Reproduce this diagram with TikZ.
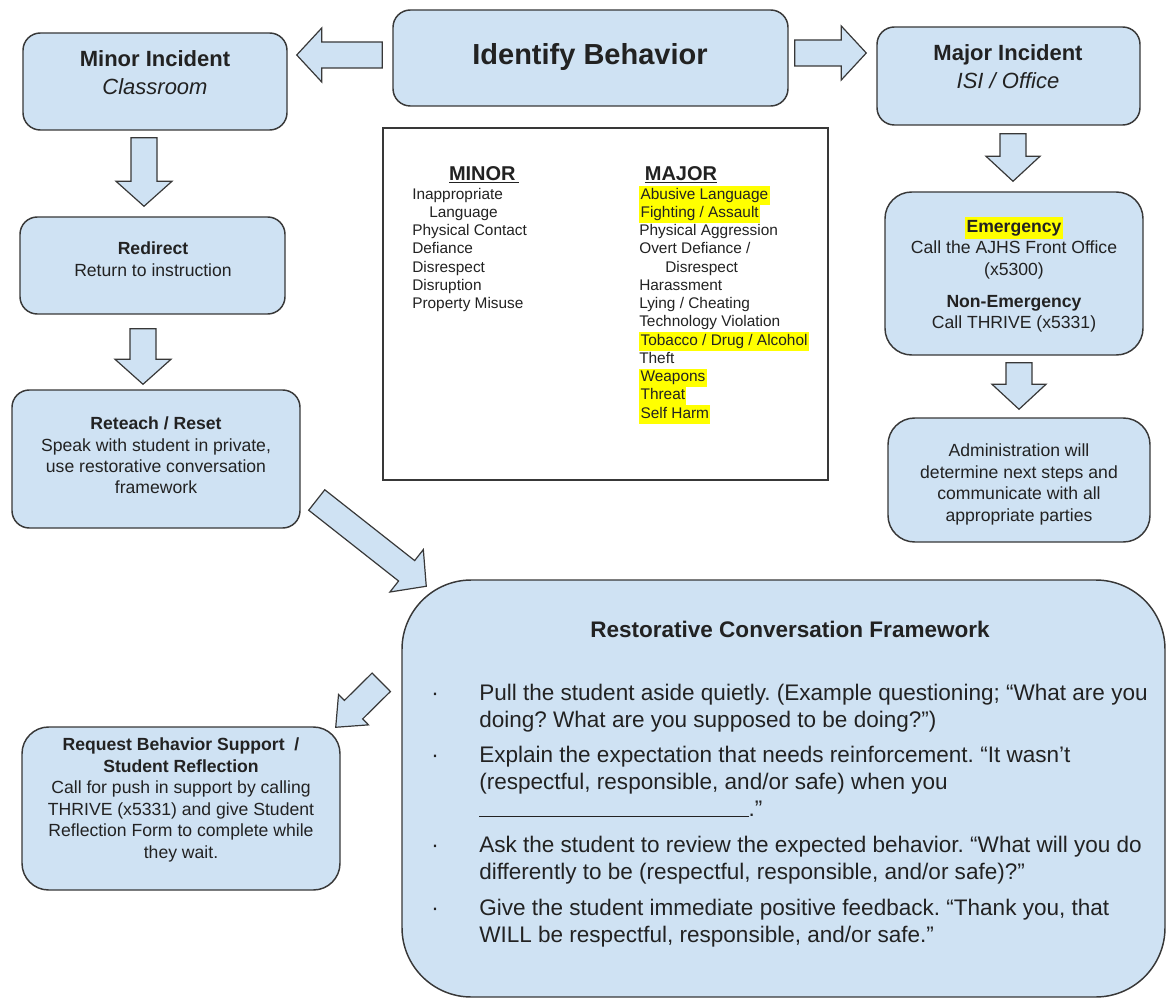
\documentclass[tikz,border=0pt]{standalone}
\usepackage{fontspec}
\setmainfont{Liberation Sans}
\usetikzlibrary{calc,fit,positioning}
\frenchspacing

\definecolor{boxblue}{HTML}{CFE2F3}
\definecolor{edgegray}{HTML}{383838}
\definecolor{hlyellow}{HTML}{FFFF00}
\definecolor{inkgray}{HTML}{222222}

% yellow marker behind a word
\newcommand{\hl}[1]{{\setlength{\fboxsep}{0pt}\colorbox{hlyellow}{\strut\hspace{1pt}#1\hspace{1pt}}}}

% block arrow from tail #2 to tip #3, #1 = half width of the head
\newcommand{\blockarrow}[3][20.25pt]{%
  \coordinate (ba-base) at ($(#3)!18.75pt!(#2)$);
  \draw[blockarr] ($(#2)!9.75pt!90:(#3)$) -- ($(ba-base)!9.75pt!90:(#3)$)
    -- ($(ba-base)!#1!90:(#3)$) -- (#3) -- ($(ba-base)!#1!-90:(#3)$)
    -- ($(ba-base)!9.75pt!-90:(#3)$) -- ($(#2)!9.75pt!-90:(#3)$) -- cycle;
}

\tikzset{
  box/.style={draw=edgegray, fill=boxblue, line width=1.1pt, rounded corners=13pt, inner sep=0pt},
  roundbox/.style={box, rounded corners=20pt},
  bigbox/.style={box, rounded corners=52pt},
  listbox/.style={draw=edgegray, fill=white, line width=1.1pt, inner sep=0pt},
  blockarr/.style={draw=edgegray, fill=boxblue, line width=0.9pt, line join=miter},
  txt/.style={align=center, text=inkgray, inner sep=0pt, font=\fontsize{13.2}{16.1}\selectfont},
  listtxt/.style={align=left, text=inkgray, inner sep=0pt, anchor=north west, font=\fontsize{11.55}{13.7}\selectfont},
  headtxt/.style={txt, font=\fontsize{15}{18}\selectfont\bfseries},
  titletxt/.style={txt, font=\fontsize{16.5}{21}\selectfont},
  steptxt/.style={align=left, text=inkgray, inner sep=0pt, anchor=north west, font=\fontsize{16.9}{20.25}\selectfont},
  dottxt/.style={text=inkgray, inner sep=0pt, anchor=base, font=\fontsize{16.9}{20.25}\selectfont}
}

\begin{document}
\begin{tikzpicture}[x=0.75pt, y=-0.75pt]
\useasboundingbox (0,0) rectangle (1172,1002);

% boxes
\node[box, fit={(393,10) (788,106)}] (identbox) {};
\node[box, fit={(23,33) (287,130)}] (minorbox) {};
\node[box, fit={(877,27) (1140,125)}] (majorbox) {};
\node[listbox, fit={(383,128) (828,480)}] (listframe) {};
\node[box, fit={(20,217) (285,314)}] (redirbox) {};
\node[box, fit={(12,390) (300,528)}] (reteachbox) {};
\node[roundbox, fit={(885,192) (1143,355)}] (emergbox) {};
\node[roundbox, fit={(888,418) (1150,542)}] (adminbox) {};
\node[roundbox, fit={(22,727) (340,890)}] (requestbox) {};
\node[bigbox, fit={(402,580) (1165,997)}] (framebox) {};

% arrow ends
\coordinate (lA) at ($(identbox.west)+(-10,-3)$);
\coordinate (lB) at ($(minorbox.east)+(9,-26.5)$);
\coordinate (rA) at ($(identbox.east)+(6,-5)$);
\coordinate (rB) at ($(majorbox.west)+(-10,-23)$);
\coordinate (mA) at ($(majorbox.south)+(4.5,8)$);
\coordinate (mB) at ($(emergbox.north)+(-1,-10)$);
\coordinate (eA) at ($(emergbox.south)+(5,7)$);
\coordinate (eB) at ($(adminbox.north)+(0,-8)$);
\coordinate (nA) at ($(minorbox.south)+(-11,7)$);
\coordinate (nB) at ($(redirbox.north)+(-8.5,-10)$);
\coordinate (dA) at ($(redirbox.south)+(-9.5,14)$);
\coordinate (dB) at ($(reteachbox.north)+(-13,-5)$);
\coordinate (tA) at ($(reteachbox.east)+(16,41)$);
\coordinate (tB) at ($(framebox.north west)+(25,7)$);
\coordinate (sA) at ($(framebox.north west)+(-20,103)$);
\coordinate (sB) at ($(requestbox.north east)+(-5,1)$);

\blockarrow{lA}{lB}
\blockarrow{rA}{rB}
\blockarrow{mA}{mB}
\blockarrow{eA}{eB}
\blockarrow[21pt]{nA}{nB}
\blockarrow[21pt]{dA}{dB}
\blockarrow{tA}{tB}
\blockarrow[16pt]{sA}{sB}

% texts
\node[txt, font=\fontsize{21.75}{26}\selectfont\bfseries] (ident) at (590,57) {Identify Behavior};
\node[titletxt] (minor) at (155,73) {\textbf{Minor Incident}\\\textit{Classroom}};
\node[titletxt] (major) at (1008,66.5) {\textbf{Major Incident}\\\textit{ISI / Office}};

\node[headtxt] (minorhead) at (484,175) {\underline{MINOR\,}};
\node[headtxt] (majorhead) at (681,175) {\underline{MAJOR}};
\node[listtxt] (minorlist) at (412,186) {\strut Inappropriate\\\hspace*{12.75pt}Language\\Physical Contact\\Defiance\\Disrespect\\Disruption\\Property Misuse};
\node[listtxt] (majorlist) at (639,186) {\hl{Abusive Language}\\\hl{Fighting / Assault}\\Physical Aggression\\Overt Defiance /\\\hspace*{19.5pt}Disrespect\\Harassment\\Lying / Cheating\\Technology Violation\\\hl{Tobacco / Drug / Alcohol}\\Theft\\\hl{Weapons}\\\hl{Threat}\\\hl{Self Harm}};

\node[txt] (redir) at (153,259) {\textbf{Redirect}\\Return to instruction};
\node[txt] (reteach) at (156,455.5) {\textbf{Reteach / Reset}\\Speak with student in private,\\use restorative conversation\\framework};
\node[txt] (emerg) at (1014,275) {\hl{\textbf{Emergency}}\\Call the AJHS Front Office\\(x5300)\\[7.9pt]\textbf{Non-Emergency}\\Call THRIVE (x5331)};
\node[txt] (admin) at (1019,484.5) {Administration will\\determine next steps and\\communicate with all\\appropriate parties};
\node[txt] (request) at (181,800) {\textbf{Request Behavior Support~ /}\\\textbf{Student Reflection}\\Call for push in support by calling\\THRIVE (x5331) and give Student\\Reflection Form to complete while\\they wait.};

\node[txt, font=\fontsize{16.9}{20.25}\selectfont\bfseries] (frame) at (790,629) {Restorative Conversation Framework};
\node[steptxt] (step1) at (479,681) {\strut Pull the student aside quietly. (Example questioning; “What are you\\doing? What are you supposed to be doing?”)};
\node[steptxt] (step2) at (479,743) {\strut Explain the expectation that needs reinforcement. “It wasn’t\\(respectful, responsible, and/or safe) when you\\\rule[-0.5pt]{202pt}{0.7pt}.”};
\node[steptxt] (step3) at (479,833) {\strut Ask the student to review the expected behavior. “What will you do\\differently to be (respectful, responsible, and/or safe)?”};
\node[steptxt] (step4) at (479,896) {\strut Give the student immediate positive feedback. “Thank you, that\\WILL be respectful, responsible, and/or safe.”};
\node[dottxt] (dot1) at (435,700) {·};
\node[dottxt] (dot2) at (435,762) {·};
\node[dottxt] (dot3) at (435,852) {·};
\node[dottxt] (dot4) at (435,915) {·};
\end{tikzpicture}
\end{document}
